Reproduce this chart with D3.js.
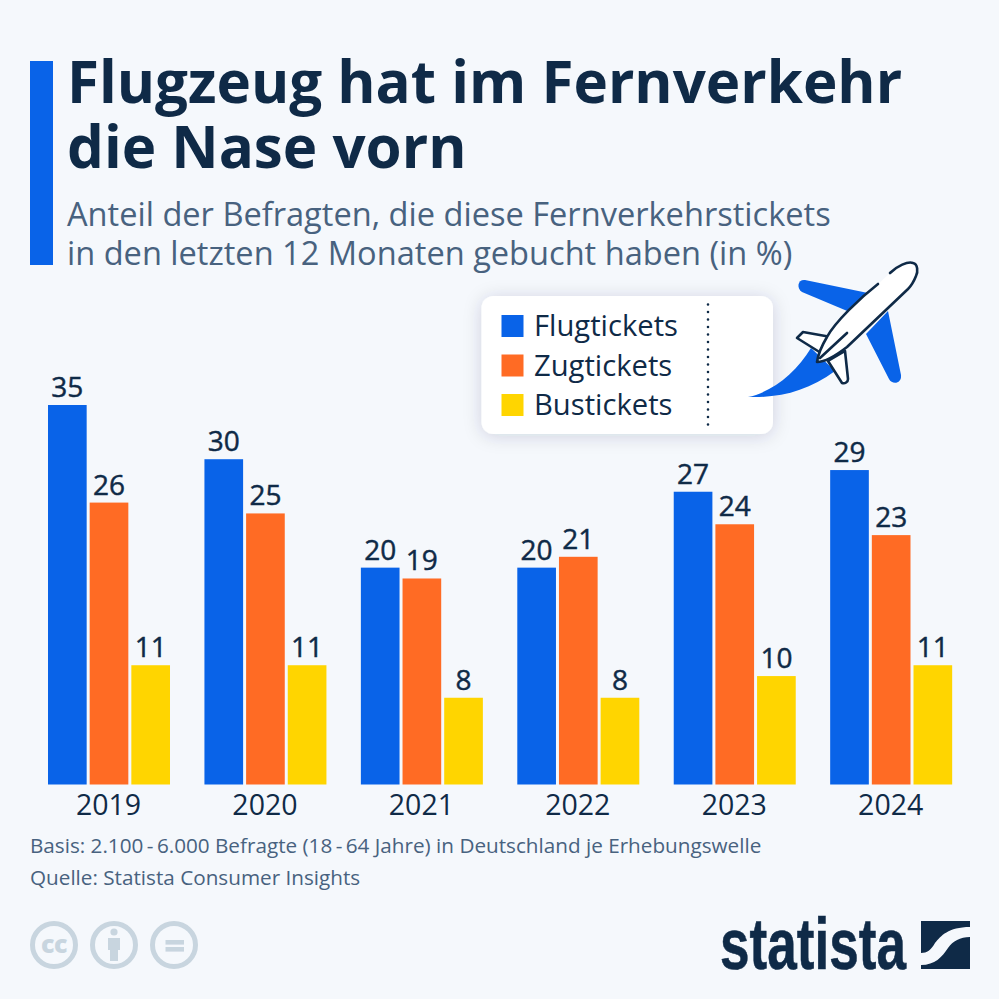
<!DOCTYPE html>
<html><head><meta charset="utf-8">
<script src="https://cdnjs.cloudflare.com/ajax/libs/d3/7.8.5/d3.min.js"></script>
<style>html,body{margin:0;padding:0;background:#f5f8fc}svg{display:block}text{font-family:"Open Sans",sans-serif}</style>
</head><body><div id="c"></div>
<script>
const years=["2019","2020","2021","2022","2023","2024"];
const seriesNames=["Flugtickets","Zugtickets","Bustickets"];
const flug=[35,30,20,20,27,29];
const zug=[26,25,19,21,24,23];
const bus=[11,11,8,8,10,11];
const seriesColors=["#0963e8","#ff6b24","#ffd500"];
const titleLines=["Flugzeug hat im Fernverkehr","die Nase vorn"];
const subtitleLines=["Anteil der Befragten, die diese Fernverkehrstickets","in den letzten 12 Monaten gebucht haben (in %)"];
const footerLines=["Basis: 2.100\u2009-\u20096.000 Befragte (18\u2009-\u200964 Jahre) in Deutschland je Erhebungswelle","Quelle: Statista Consumer Insights"];
const dark="#0f2a47", mid="#48627f";

const svg=d3.select("#c").append("svg").attr("width",999).attr("height",999);
svg.append("rect").attr("width",999).attr("height",999).attr("fill","#f5f8fc");
const defs=svg.append("defs");
const f=defs.append("filter").attr("id","sh").attr("x","-20%").attr("y","-20%").attr("width","140%").attr("height","140%");
f.append("feDropShadow").attr("dx",0).attr("dy",2).attr("stdDeviation",9).attr("flood-color","#0f2a47").attr("flood-opacity",0.16);

svg.append("rect").attr("x",30).attr("y",61).attr("width",23).attr("height",204).attr("fill","#0963e8");
svg.selectAll(".title").data(titleLines).join("text").attr("class","title").attr("x",67)
  .attr("y",(d,i)=>103+i*65).attr("font-size",58.3).attr("font-weight",700).attr("fill",dark).text(d=>d);
svg.selectAll(".sub").data(subtitleLines).join("text").attr("class","sub").attr("x",67)
  .attr("y",(d,i)=>226+i*39).attr("font-size",32.6).attr("fill",mid).text(d=>d);

// chart
const y=d3.scaleLinear().domain([0,35]).range([784.5,405]);
const x0=d3.scaleBand().domain(years).range([48,986.6]);
const x1=d3.scaleBand().domain(seriesNames).range([0,122]).paddingInner(0.072);
const values=[flug,zug,bus];
const g=svg.append("g");
seriesNames.forEach((s,si)=>{
  const rows=years.map((yr,i)=>({yr,v:values[si][i]}));
  g.selectAll(".b"+si).data(rows).join("rect").attr("class","b"+si)
    .attr("x",d=>x0(d.yr)+x1(s)).attr("width",x1.bandwidth())
    .attr("y",d=>y(d.v)).attr("height",d=>y(0)-y(d.v)).attr("fill",seriesColors[si]);
  g.selectAll(".l"+si).data(rows).join("text").attr("class","l"+si)
    .attr("x",d=>x0(d.yr)+x1(s)+x1.bandwidth()/2).attr("y",d=>y(d.v)-8)
    .attr("text-anchor","middle").attr("font-size",28).attr("font-weight",500).attr("fill",dark)
    .attr("stroke",dark).attr("stroke-width",0.45).text(d=>d.v);
});
// axis: the band centre sits 17.2px right of each bar group's centre
const ax=svg.append("g").attr("transform","translate(-17.7,784.5)")
  .call(d3.axisBottom(x0).tickSize(0).tickPadding(0).tickFormat(d=>d));
ax.select(".domain").remove();
ax.selectAll("text").attr("font-size",28.5).attr("fill",dark).attr("y",30.5).attr("dy",0).style("font-family",'"Open Sans",sans-serif');

// legend
svg.append("rect").attr("x",481.5).attr("y",296).attr("width",291.5).attr("height",138).attr("rx",12).attr("fill","#fff").attr("filter","url(#sh)");
const ly=d3.scalePoint().domain(seriesNames).range([326,405]);
svg.selectAll(".lk").data(seriesNames).join("rect").attr("class","lk").attr("x",501.5).attr("width",22).attr("height",22)
  .attr("y",d=>ly(d)-11).attr("fill",(d,i)=>seriesColors[i]);
svg.selectAll(".lt").data(seriesNames).join("text").attr("class","lt").attr("x",534).attr("y",d=>ly(d)+10)
  .attr("font-size",29.2).attr("fill",dark).text(d=>d);
svg.append("line").attr("x1",708).attr("x2",708).attr("y1",304.5).attr("y2",426).attr("stroke",dark).attr("stroke-width",2.6)
  .attr("stroke-linecap","round").attr("stroke-dasharray","0 7.5");

// plane
const p=svg.append("g");
p.append("path").attr("fill","#0963e8").attr("d","M748,397C772,392 796,373 811,348L835,371C808,391 780,398 748,397Z");
p.append("path").attr("fill","#0963e8").attr("d","M805,280L868,293L852,313L802,292C796,288 798,279 805,280Z");
p.append("path").attr("fill","#0963e8").attr("d","M888,311L901,375C902,384 892,385 889,379L866,334Z");
const outline=(sel)=>sel.attr("stroke",dark).attr("stroke-width",2.6).attr("stroke-linejoin","round").attr("stroke-linecap","round");
outline(p.append("path")).attr("fill","#fff").attr("d","M797,338L803,332L831,337L821,353Z");
outline(p.append("path")).attr("fill","#fff").attr("d","M828,361L842,383C845,384 848,382 848,379L845,351Z");
p.append("path").attr("fill","#fff").attr("d","M817,362C818,355 821,347 827,337C835,322 860,298 878,284L890,273C897,266 908,261 913,263C918,264 918,272 916,276C914,281 912,285 908,289L888,308L847,347C838,354 827,362 817,362Z");
outline(p.append("path")).attr("fill","none").attr("d","M878,284C860,298 835,322 827,337C821,347 818,355 817,362C827,362 838,354 847,347L888,308L908,289C912,285 914,281 916,276C918,272 918,264 913,263C908,261 897,266 890,273");
outline(p.append("path")).attr("fill","none").attr("d","M820,358L847,333");

// footer
svg.selectAll(".ft").data(footerLines).join("text").attr("class","ft").attr("x",30).attr("y",(d,i)=>853+i*32)
  .attr("font-size",20.7).attr("fill",mid).text(d=>d);

// cc icons
const cc="#c8d5df";
[54,114,174].forEach(cx=>svg.append("circle").attr("cx",cx).attr("cy",945).attr("r",21.5).attr("fill","none").attr("stroke",cc).attr("stroke-width",5));
svg.append("text").attr("x",54).attr("y",953).attr("text-anchor","middle").attr("font-size",25).attr("font-weight",800).attr("fill",cc).attr("letter-spacing",-0.5).text("cc");
svg.append("circle").attr("cx",114).attr("cy",932).attr("r",3.6).attr("fill",cc);
svg.append("path").attr("fill",cc).attr("d","M108,938H120V950H118V961H110V950H108Z");
svg.append("rect").attr("x",165.5).attr("y",940).attr("width",18.5).attr("height",4.6).attr("fill",cc);
svg.append("rect").attr("x",165.5).attr("y",947).attr("width",18.5).attr("height",4.6).attr("fill",cc);

// logo
svg.append("text").attr("x",720).attr("y",969).attr("font-size",72).attr("font-weight",700)
  .attr("textLength",186).attr("lengthAdjust","spacingAndGlyphs").attr("fill",dark).attr("stroke",dark).attr("stroke-width",0.6)
  .style("font-family",'"Liberation Sans Narrow","Liberation Sans",sans-serif').text("statista");
svg.append("path").attr("fill",dark).attr("d","M921,921H970V927C948,927 941,936 935,943C931,950 927,953 921,953Z");
svg.append("path").attr("fill",dark).attr("d","M970,937V969H921V965C935,965 942,957 948,948C953,941 960,937 970,937Z");
</script></body></html>
